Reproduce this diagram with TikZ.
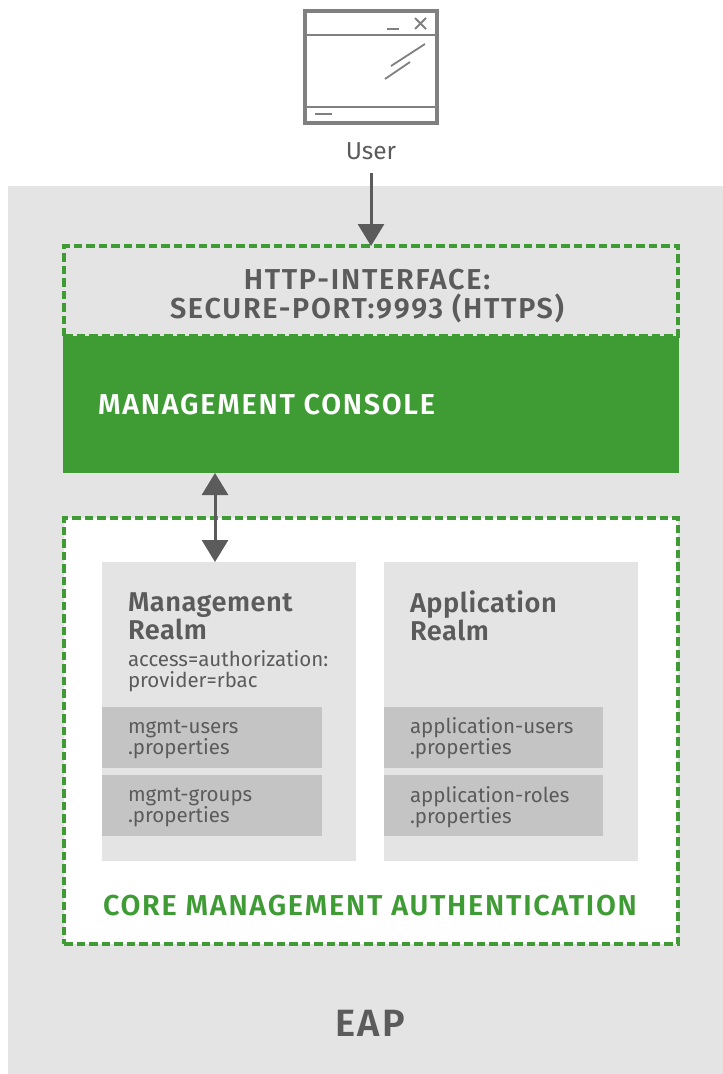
\documentclass[tikz,border=0pt]{standalone}
\usepackage{fontspec}
\setmainfont{Fira Sans}
\newfontfamily\headfont[LetterSpace=6]{Fira Sans SemiBold}
\newfontfamily\realmfont[LetterSpace=2]{Fira Sans SemiBold}
\usetikzlibrary{arrows.meta,positioning}
\definecolor{eapgrey}{HTML}{E4E4E4}
\definecolor{midgrey}{HTML}{C4C4C4}
\definecolor{inkgrey}{HTML}{5B5B5B}
\definecolor{icongrey}{HTML}{808080}
\definecolor{rhgreen}{HTML}{3F9C35}
\newcommand{\firstline}[1]{\rule{0pt}{#1pt}}
\tikzset{
  x=1pt,y=-1pt,
  area/.style={draw=none,inner sep=0,outer sep=0,anchor=north west},
  dashbox/.style={area,draw=rhgreen,line width=3.2pt,dash pattern=on 8.5pt off 4pt},
  txtbase/.style={inner sep=0,outer sep=0,anchor=base west,text=inkgrey},
  headtxt/.style={txtbase,font=\fontsize{28.8}{29.5}\selectfont\headfont},
  realmtxt/.style={txtbase,anchor=north west,align=left,font=\fontsize{27.2}{28}\selectfont\realmfont},
  smalltxt/.style={txtbase,anchor=north west,align=left,font=\fontsize{20.5}{21}\selectfont},
  conn/.style={draw=inkgrey,line width=3pt},
  tipend/.style={-{Triangle[length=22pt,width=26pt]}},
  tipboth/.style={{Triangle[length=22pt,width=26pt]}-{Triangle[length=22pt,width=26pt]}},
  iconline/.style={draw=icongrey,line width=1.8pt},
}
\begin{document}
\begin{tikzpicture}
\useasboundingbox (0,0) rectangle (723,1074);
\node[area,fill=eapgrey,minimum width=715pt,minimum height=888pt] (eap) at (8,186) {};
% window icon
\node[area,draw=icongrey,fill=white,line width=3.4pt,minimum width=132pt,minimum height=112pt] (win) at (305,11) {};
\draw[icongrey,line width=2.4pt] (305,35) -- (437,35);
\draw[icongrey,line width=2pt] (305,107) -- (437,107);
\draw[iconline] (387,29) -- (399,29);
\draw[iconline,line width=1.9pt] (415,18) -- (426,29) (426,18) -- (415,29);
\draw[iconline] (391,66) -- (425,44);
\draw[iconline] (385,79) -- (410,62);
\draw[iconline] (315,114) -- (332,114);
\node[inner sep=0,anchor=base,text=inkgrey,font=\fontsize{24.5}{24.5}\selectfont] (user) at (371,159) {User};
% http box
\node[dashbox,minimum width=614pt,minimum height=90pt] (http) at (64,246) {};
\node[headtxt,anchor=center,align=center] (httptxt) at (367,296) {HTTP-INTERFACE:\\SECURE-PORT:9993 (HTTPS)};
% console
\node[area,fill=rhgreen,minimum width=616pt,minimum height=137pt] (console) at (63,336) {};
\node[headtxt,text=white] (consoletxt) at (98,414) {MANAGEMENT CONSOLE};
% core
\node[dashbox,fill=white,minimum width=614pt,minimum height=426pt] (core) at (64,518) {};
% realms
\node[area,fill=eapgrey,minimum width=254pt,minimum height=299pt] (mrealm) at (102,562) {};
\node[area,fill=eapgrey,minimum width=254pt,minimum height=299pt] (arealm) at (384,562) {};
\node[realmtxt] (mtitle) at (128,591) {\firstline{20}Management\\Realm};
\node[realmtxt] (atitle) at (410,591) {\firstline{20}Application\\Realm};
\node[smalltxt] (acc) at (128,651) {\firstline{15}access=authorization:\\provider=rbac};
% property boxes
\node[area,fill=midgrey,minimum width=220pt,minimum height=61pt] (mu) at (102,707) {};
\node[area,fill=midgrey,minimum width=220pt,minimum height=61pt] (mg) at (102,775) {};
\node[area,fill=midgrey,minimum width=219pt,minimum height=61pt] (au) at (384,707) {};
\node[area,fill=midgrey,minimum width=219pt,minimum height=61pt] (ag) at (384,775) {};
\node[smalltxt] (mut) at (128,718) {\firstline{15}mgmt-users\\.properties};
\node[smalltxt] (mgt) at (128,786) {\firstline{15}mgmt-groups\\.properties};
\node[smalltxt] (aut) at (410,718) {\firstline{15}application-users\\.properties};
\node[smalltxt] (agt) at (410,786) {\firstline{15}application-roles\\.properties};
\node[headtxt,text=rhgreen] (coretxt) at (103,915) {CORE MANAGEMENT AUTHENTICATION};
\node[headtxt,anchor=base,font=\fontsize{38}{38}\selectfont\headfont] (eaptxt) at (370,1036) {EAP};
% connectors
\coordinate (ustart) at (371,173);
\draw[conn,tipend] (ustart) -- (ustart |- http.north);
\coordinate (consolept) at (215,473);
\draw[conn,tipboth] (consolept) -- (consolept |- mrealm.north);
\end{tikzpicture}
\end{document}
